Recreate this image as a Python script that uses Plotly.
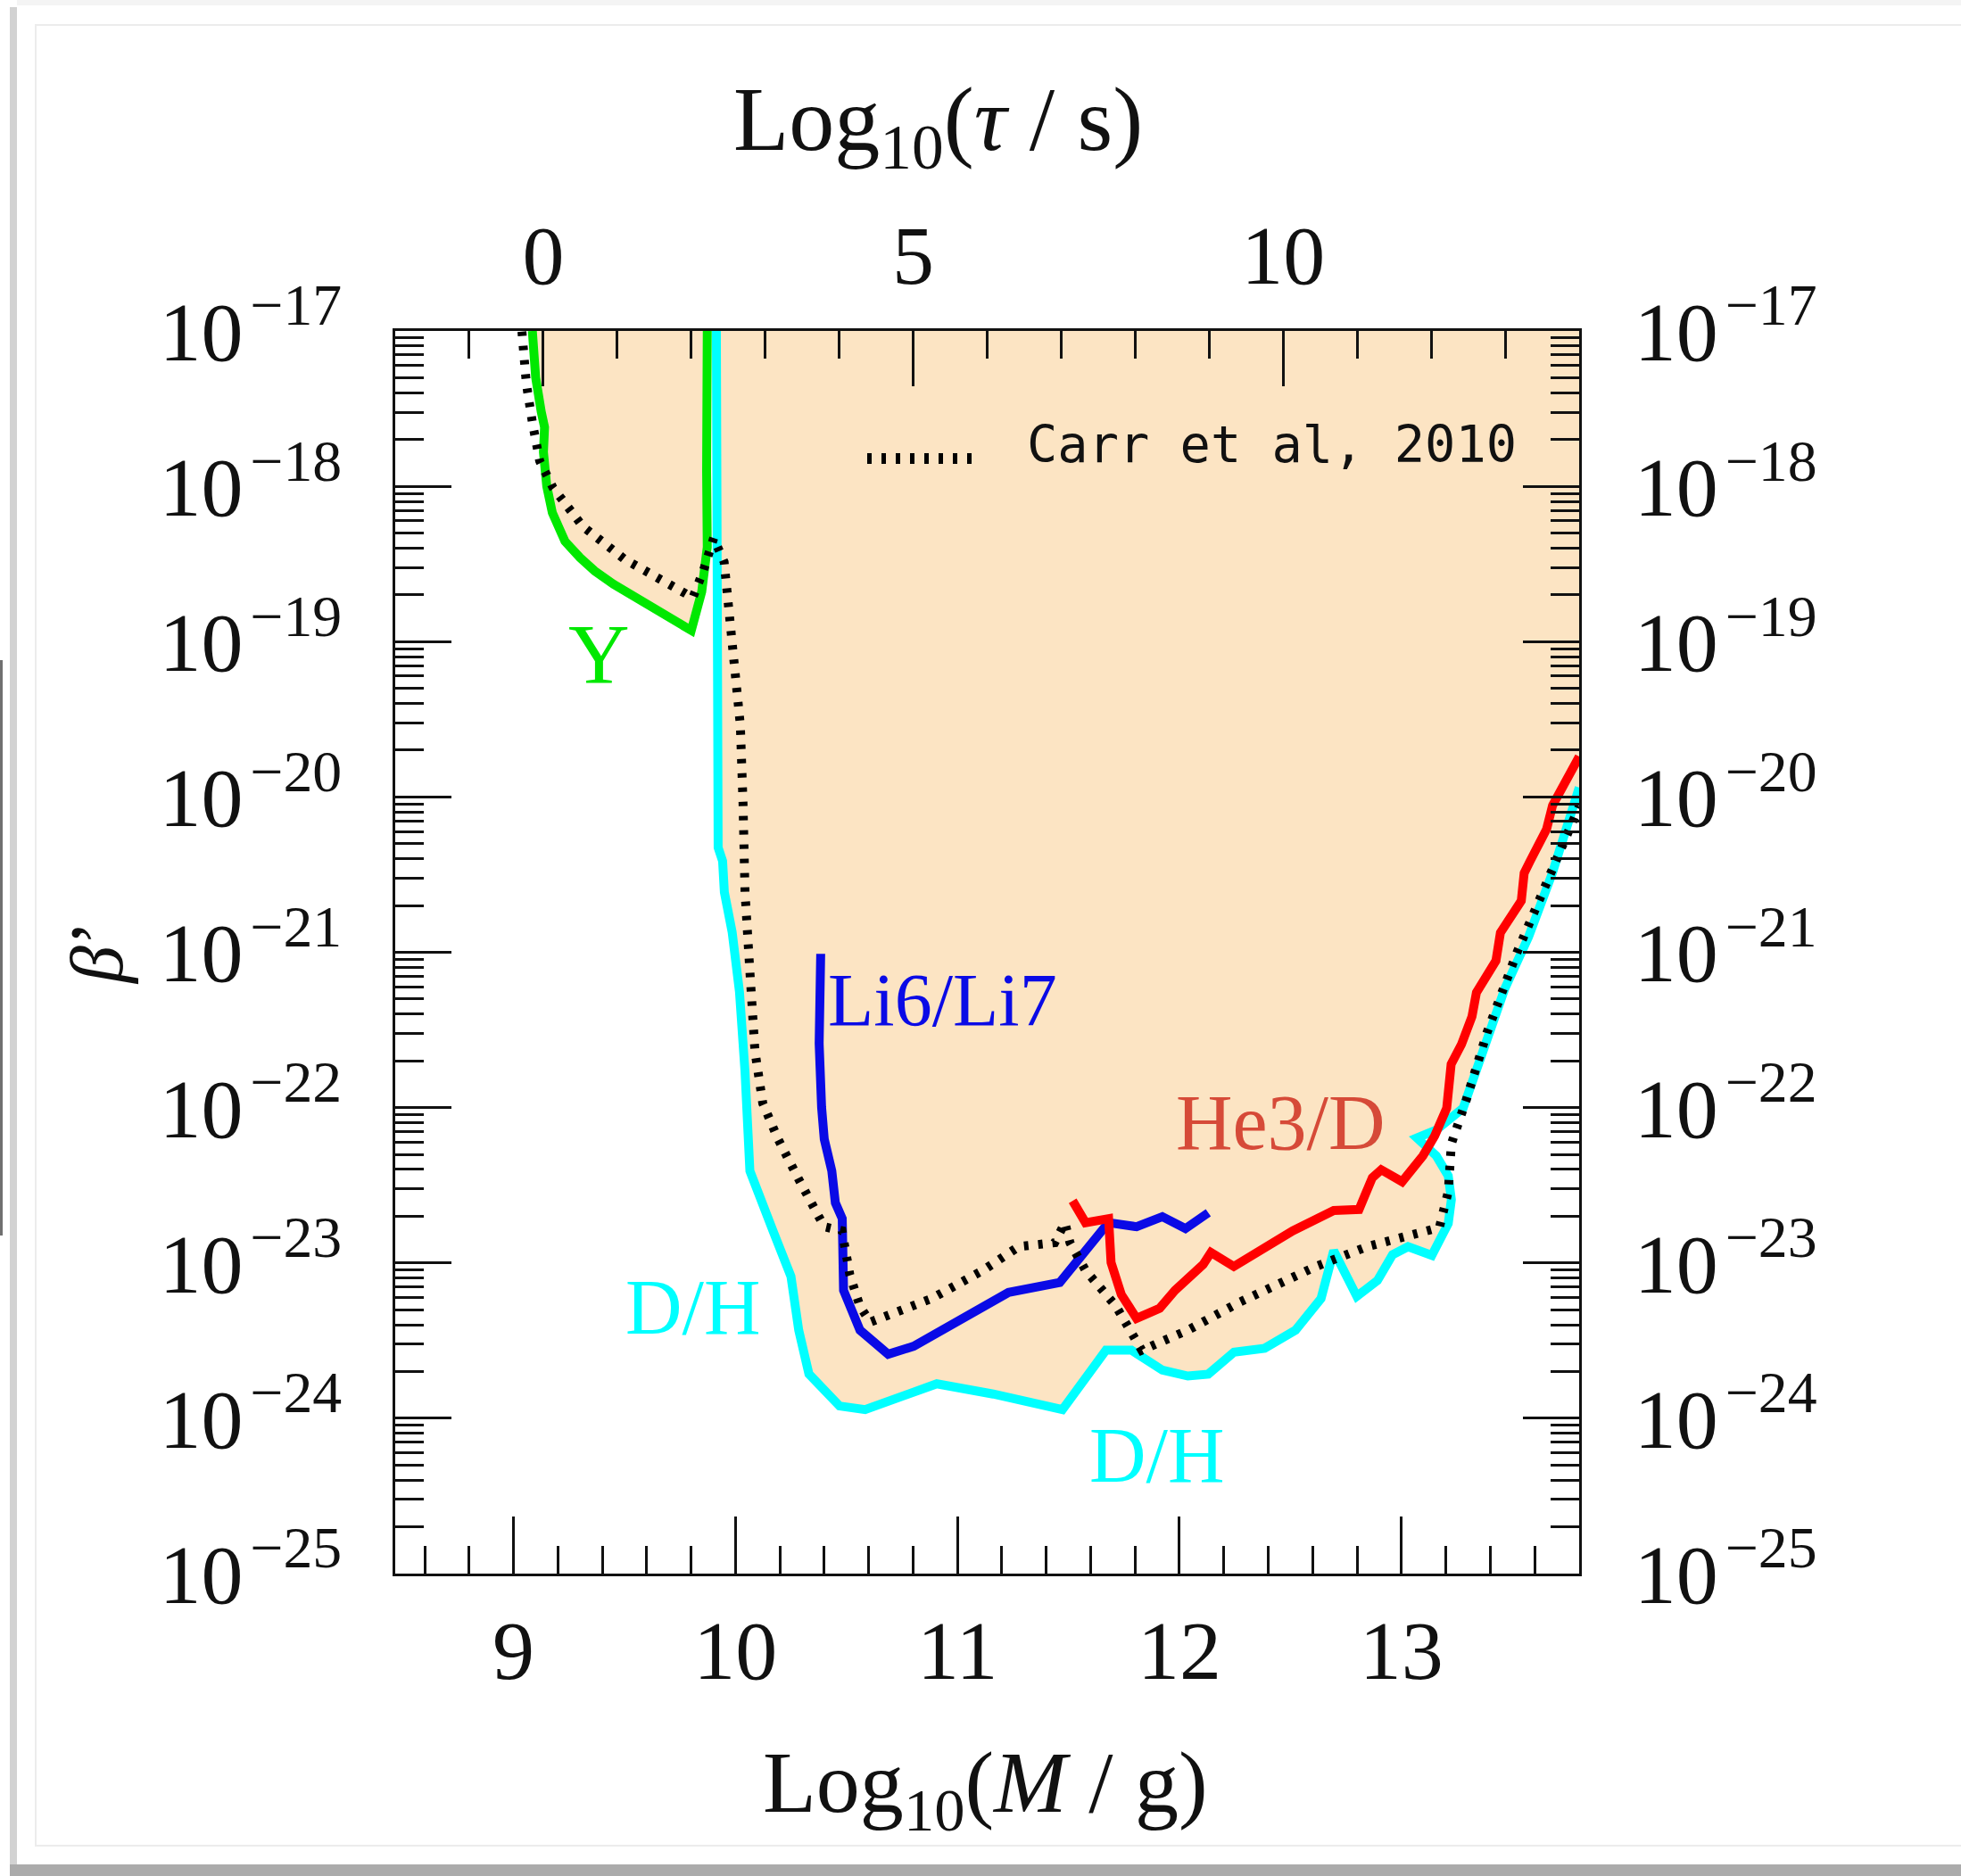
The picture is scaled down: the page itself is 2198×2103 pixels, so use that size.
import numpy as np
import plotly.graph_objects as go

# ---------------------------------------------------------------------------
# Constraint curves: log10(M/g) and log10(beta')
# ---------------------------------------------------------------------------
# Helium-4 abundance (Y)
y_logM = [9.085, 9.100, 9.125, 9.140, 9.135, 9.150, 9.175, 9.232, 9.300, 9.366,
          9.450, 9.527, 9.647, 9.801, 9.848, 9.873, 9.870, 9.873]
y_logb = [-17.00, -17.30, -17.52, -17.62, -17.78, -18.00, -18.17, -18.354, -18.46, -18.545,
          -18.63, -18.698, -18.794, -18.928, -18.679, -18.392, -17.90, -17.00]

# Deuterium (D/H)
dh_logM = [9.914, 9.916, 9.922, 9.942, 9.950, 9.985, 10.018, 10.043, 10.065, 10.169,
           10.250, 10.285, 10.331, 10.469, 10.584, 10.907, 11.161, 11.473, 11.669, 11.784,
           11.923, 12.038, 12.130, 12.246, 12.384, 12.523, 12.638, 12.695, 12.799, 12.892,
           12.960, 13.030, 13.137, 13.211, 13.225, 13.211, 13.157, 13.070, 13.158, 13.278,
           13.359, 13.466, 13.573, 13.680, 13.801]
dh_logb = [-17.00, -19.60, -20.326, -20.412, -20.613, -20.869, -21.254, -21.767, -22.408, -22.793,
           -23.087, -23.433, -23.715, -23.921, -23.944, -23.778, -23.844, -23.944, -23.562, -23.562,
           -23.690, -23.728, -23.716, -23.574, -23.549, -23.433, -23.229, -22.921, -23.215, -23.113,
           -22.947, -22.895, -22.951, -22.746, -22.592, -22.439, -22.310, -22.195, -22.143, -22.003,
           -21.670, -21.233, -20.900, -20.490, -19.939]

# Lithium ratio (Li6/Li7)
li_logM = [10.384, 10.377, 10.388, 10.400, 10.434, 10.450, 10.481, 10.487, 10.561, 10.688,
           10.803, 10.977, 11.230, 11.461, 11.680, 11.807, 11.923, 12.027, 12.130]
li_logb = [-21.010, -21.587, -21.997, -22.203, -22.408, -22.613, -22.715, -23.177, -23.433, -23.588,
           -23.536, -23.395, -23.190, -23.126, -22.741, -22.767, -22.702, -22.779, -22.677]

# Helium-3 to deuterium ratio (He3/D)
he_logM = [11.519, 11.577, 11.681, 11.692, 11.738, 11.807, 11.911, 11.980, 12.107, 12.142,
           12.245, 12.511, 12.695, 12.809, 12.869, 12.909, 13.003, 13.097, 13.150, 13.204,
           13.224, 13.271, 13.318, 13.338, 13.426, 13.446, 13.540, 13.553, 13.580, 13.654,
           13.681, 13.754, 13.801]
he_logb = [-22.600, -22.741, -22.715, -22.998, -23.203, -23.357, -23.292, -23.177, -23.010, -22.933,
           -23.023, -22.793, -22.663, -22.656, -22.451, -22.400, -22.477, -22.310, -22.182, -22.003,
           -21.721, -21.592, -21.413, -21.259, -21.054, -20.874, -20.669, -20.490, -20.412, -20.208,
           -20.054, -19.849, -19.740]

# Earlier bound (Carr et al, 2010)
carr_logM = [9.038, 9.058, 9.085, 9.118, 9.178, 9.312, 9.500, 9.688, 9.808, 9.855,
             9.902, 9.949, 9.969, 10.002, 10.022, 10.034, 10.043, 10.065, 10.088, 10.123,
             10.192, 10.284, 10.400, 10.480, 10.515, 10.561, 10.607, 10.884, 11.115, 11.276,
             11.438, 11.484, 11.507, 11.577, 11.715, 11.830, 12.038, 12.269, 12.615, 12.846,
             13.117, 13.171, 13.211, 13.225, 13.292, 13.386, 13.520, 13.654, 13.788, 13.801]
carr_logb = [-17.004, -17.339, -17.588, -17.837, -18.009, -18.258, -18.469, -18.621, -18.717, -18.545,
             -18.333, -18.488, -18.775, -19.158, -19.539, -20.038, -20.613, -21.124, -21.639, -21.972,
             -22.203, -22.459, -22.767, -22.793, -23.075, -23.280, -23.381, -23.229, -23.048, -22.895,
             -22.870, -22.741, -22.870, -23.048, -23.280, -23.562, -23.433, -23.254, -23.023, -22.895,
             -22.793, -22.772, -22.541, -22.233, -21.951, -21.515, -21.003, -20.541, -20.105, -20.060]

# Axis ticks
mass_ticks = [9, 10, 11, 12, 13]
tau_ticks = [0, 5, 10]
beta_exponents = list(range(-25, -16))

# Axis extents: lifetime axis spans log10(tau/s) = -2 .. 14, tau = 0 at log10(M/g) = 9.134
TAU_RANGE = [-2.0, 14.0]
LOGM_TAU0 = 9.134
X_RANGE = [LOGM_TAU0 + TAU_RANGE[0] / 3.0, LOGM_TAU0 + TAU_RANGE[1] / 3.0]
Y_RANGE = [-25, -17]


def beta(vals):
    return (10.0 ** np.asarray(vals, dtype=float)).tolist()


GREEN = "#00E800"
CYAN = "#00FFFF"
BLUE = "#0A0AE6"
RED = "#FF0000"
HE_TEXT = "#D64A38"
FILL = "#FCE4C3"
INK = "#111111"
SERIF = "Liberation Serif, DejaVu Serif, serif"
MONO = "DejaVu Sans Mono, Liberation Mono, monospace"

fig = go.Figure()

# Excluded region: above the Y curve and above/right of the D/H curve
fill_x = y_logM + dh_logM + [X_RANGE[1]]
fill_y = y_logb + dh_logb + [Y_RANGE[1]]
fig.add_trace(go.Scatter(x=fill_x, y=beta(fill_y), mode="lines", fill="toself",
                         fillcolor=FILL, line=dict(width=0, color=FILL),
                         hoverinfo="skip", showlegend=False))

LW = 10
fig.add_trace(go.Scatter(x=dh_logM, y=beta(dh_logb), mode="lines",
                         line=dict(color=CYAN, width=LW), name="D/H", showlegend=False))
fig.add_trace(go.Scatter(x=y_logM, y=beta(y_logb), mode="lines",
                         line=dict(color=GREEN, width=LW), name="Y", showlegend=False))
fig.add_trace(go.Scatter(x=li_logM, y=beta(li_logb), mode="lines",
                         line=dict(color=BLUE, width=LW), name="Li6/Li7", showlegend=False))
fig.add_trace(go.Scatter(x=he_logM, y=beta(he_logb), mode="lines",
                         line=dict(color=RED, width=LW), name="He3/D", showlegend=False))
fig.add_trace(go.Scatter(x=carr_logM, y=beta(carr_logb), mode="lines",
                         line=dict(color="black", width=10, dash="5px,11px"),
                         name="Carr et al, 2010", showlegend=False))

# empty traces so the lifetime (top) and mirrored (right) axes are drawn
fig.add_trace(go.Scatter(x=[], y=[], xaxis="x2", yaxis="y", mode="lines",
                         hoverinfo="skip", showlegend=False))
fig.add_trace(go.Scatter(x=[], y=[], xaxis="x", yaxis="y2", mode="lines",
                         hoverinfo="skip", showlegend=False))

# Plot-area geometry in pixels (used for placing decorations in paper units)
W, H = 2198, 2103
L, R, T, B = 443, 1770, 371, 1764


def px(xp):
    return (xp - L) / (R - L)


def py(yp):
    return (B - yp) / (B - T)


tick_font = dict(family=SERIF, size=94, color=INK)
axis_common = dict(showline=True, linecolor=INK, linewidth=3, ticks="inside",
                   tickcolor=INK, tickwidth=2.5, showgrid=False, zeroline=False,
                   tickfont=tick_font)

beta_labels = ["10\u200a<sup>\u2212%d</sup>" % (-e) for e in beta_exponents]
beta_majors = [10.0 ** e for e in beta_exponents]
beta_minors = [k * 10.0 ** e for e in beta_exponents[:-1] for k in range(2, 10)]

fig.update_layout(
    width=W, height=H, autosize=False,
    margin=dict(l=L, r=W - R, t=T, b=H - B, pad=0),
    paper_bgcolor="white", plot_bgcolor="white",
    showlegend=False,
    xaxis=dict(range=X_RANGE, tickmode="array", tickvals=mass_ticks,
               ticktext=[str(v) for v in mass_ticks], ticklen=64,
               ticklabelstandoff=2,
               minor=dict(ticks="inside", dtick=0.2, tick0=9, ticklen=31,
                          tickwidth=2.5, tickcolor=INK, showgrid=False),
               **axis_common),
    xaxis2=dict(range=TAU_RANGE, overlaying="x", side="top", anchor="y",
                tickmode="array", tickvals=tau_ticks,
                ticktext=[str(v) for v in tau_ticks], ticklen=62,
                ticklabelstandoff=12,
                minor=dict(ticks="inside", dtick=1, tick0=0, ticklen=31,
                           tickwidth=2.5, tickcolor=INK, showgrid=False),
                **axis_common),
    yaxis=dict(type="log", range=Y_RANGE, tickmode="array", tickvals=beta_majors,
               ticktext=beta_labels, ticklen=63, ticklabelstandoff=38,
               minor=dict(ticks="inside", tickmode="array", tickvals=beta_minors,
                          ticklen=32, tickwidth=2.5, tickcolor=INK, showgrid=False),
               **axis_common),
    yaxis2=dict(type="log", range=Y_RANGE, overlaying="y", side="right", anchor="x",
                tickmode="array", tickvals=beta_majors, ticktext=beta_labels,
                ticklen=63, ticklabelstandoff=40,
                minor=dict(ticks="inside", tickmode="array", tickvals=beta_minors,
                           ticklen=32, tickwidth=2.5, tickcolor=INK, showgrid=False),
                **axis_common),
)

annotations = [
    # axis titles
    dict(text="Log<sub>10</sub>(<i>\u03c4</i> / s)", x=px(1051), y=py(140),
         font=dict(family=SERIF, size=102, color=INK)),
    dict(text="Log<sub>10</sub>(<i>M</i> / g)", x=px(1104), y=py(2005),
         font=dict(family=SERIF, size=98, color=INK)),
    dict(text="<i>\u03b2</i>\u2019", x=px(108), y=py(1068), textangle=-90,
         font=dict(family=SERIF, size=84, color=INK)),
    # legend entry
    dict(text="Carr et al, 2010", x=px(1149), y=py(498), xanchor="left",
         font=dict(family=MONO, size=57, color=INK)),
]
for a in annotations:
    a.setdefault("xref", "paper")
    a.setdefault("yref", "paper")
    a.setdefault("showarrow", False)
    a.setdefault("xanchor", "center")
    a.setdefault("yanchor", "middle")

# curve labels in data coordinates
curve_labels = [
    ("Y", 9.386, -19.085, GREEN, 95),
    ("Li6/Li7", 10.935, -21.308, BLUE, 84),
    ("He3/D", 12.458, -22.095, HE_TEXT, 88),
    ("D/H", 9.809, -23.284, CYAN, 88),
    ("D/H", 11.899, -24.237, CYAN, 88),
]
for txt, lx, ly, col, sz in curve_labels:
    annotations.append(dict(text=txt, x=lx, y=ly, xref="x", yref="y", showarrow=False,
                            xanchor="center", yanchor="middle",
                            font=dict(family=SERIF, size=sz, color=col)))

fig.update_layout(annotations=annotations)

shapes = [
    # legend line sample
    dict(type="line", xref="paper", yref="paper", x0=px(972), x1=px(1094),
         y0=py(514), y1=py(514), line=dict(color="black", width=12, dash="5px,11px")),
    # page frame
    dict(type="rect", xref="paper", yref="paper", x0=px(40), x1=px(W + 5),
         y0=py(2069), y1=py(28), line=dict(color="#ececec", width=2),
         fillcolor="rgba(0,0,0,0)", layer="below"),
    dict(type="rect", xref="paper", yref="paper", x0=px(11), x1=px(19),
         y0=py(2092), y1=py(8), line=dict(width=0), fillcolor="#d2d2d2"),
    dict(type="rect", xref="paper", yref="paper", x0=px(11), x1=px(W + 5),
         y0=py(H + 5), y1=py(2090), line=dict(width=0), fillcolor="#ababab"),
    dict(type="rect", xref="paper", yref="paper", x0=px(19), x1=px(W + 5),
         y0=py(6), y1=py(0), line=dict(width=0), fillcolor="#f4f4f4"),
    dict(type="line", xref="paper", yref="paper", x0=px(1.5), x1=px(1.5),
         y0=py(740), y1=py(1385), line=dict(color="#707070", width=3)),
]
fig.update_layout(shapes=shapes)

fig.write_html("out.html")
